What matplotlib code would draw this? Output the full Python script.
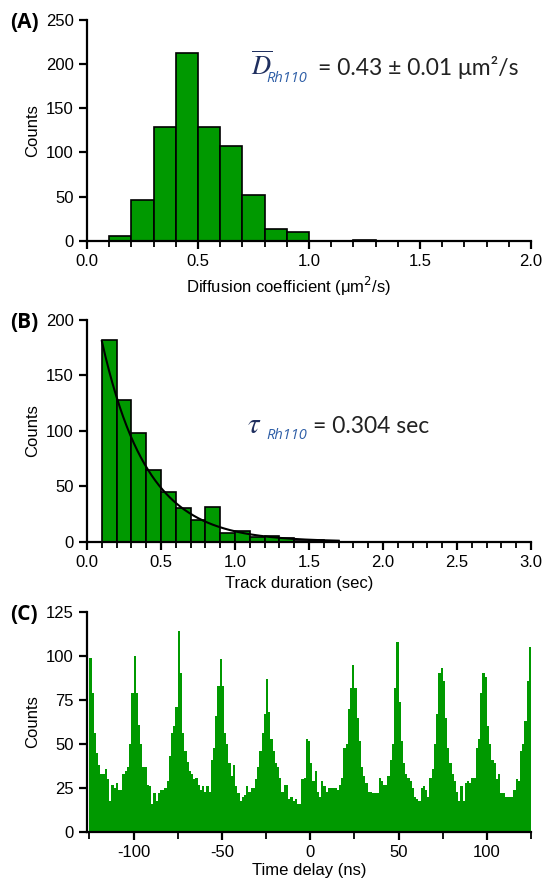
import numpy as np
import matplotlib
matplotlib.use("Agg")
import matplotlib.pyplot as plt
from matplotlib.ticker import MultipleLocator

# (A) diffusion coefficient histogram, bins of 0.1 um^2/s from 0.1 to 2.0
diff_bin_start = 0.1
diff_bin_width = 0.1
diff_counts = [5, 46, 129, 213, 129, 107, 52, 13, 10, 0, 0, 1, 0, 0, 0, 0, 0, 0, 0]

# (B) track duration histogram, bins of 0.1 s from 0.1 s
track_bin_start = 0.1
track_bin_width = 0.1
track_counts = [182, 128, 98, 65, 45, 30, 20, 31, 8, 10, 4, 5, 3, 1, 2, 1]
# exponential fit shown as the black line
fit_amp = 181
fit_tau = 0.304
fit_end = 1.7

# (C) time delay histogram, 1.25 ns bins from -125 to 125 ns
delay_bin_start = -125
delay_bin_width = 1.25
delay_counts = [
    99, 79, 56, 45, 38, 33, 33, 36, 30, 18, 27, 25, 28, 24, 24, 33, 35, 37, 50, 79,
    100, 79, 61, 50, 37, 37, 27, 26, 16, 22, 18, 22, 24, 24, 25, 29, 43, 56, 60, 71,
    114, 90, 56, 46, 40, 35, 33, 30, 31, 27, 24, 26, 23, 26, 23, 41, 48, 66, 83, 98,
    83, 56, 50, 39, 32, 38, 26, 22, 18, 20, 21, 26, 23, 25, 25, 30, 37, 46, 56, 67,
    87, 68, 53, 46, 39, 37, 31, 23, 27, 27, 19, 20, 18, 19, 16, 16, 30, 31, 53, 52,
    39, 29, 35, 23, 20, 29, 26, 23, 25, 25, 25, 25, 24, 27, 31, 48, 50, 70, 82, 95,
    82, 65, 52, 37, 32, 28, 23, 23, 22, 22, 22, 31, 29, 27, 27, 32, 41, 50, 82, 108,
    74, 52, 39, 33, 31, 29, 25, 20, 19, 18, 25, 26, 24, 20, 31, 36, 50, 67, 90, 93,
    86, 65, 48, 39, 33, 29, 23, 18, 26, 18, 28, 29, 28, 31, 31, 48, 53, 79, 90, 88,
    60, 50, 41, 39, 30, 33, 22, 22, 20, 20, 20, 20, 24, 30, 29, 46, 50, 63, 86, 105,
]

GREEN = "#009900"
NAVY = "#1f2f5f"
BLUE = "#2f5fa7"

plt.rcParams["font.family"] = ["Liberation Sans", "DejaVu Sans"]
plt.rcParams["font.size"] = 12
plt.rcParams["axes.unicode_minus"] = False


def style_axes(ax):
    for side in ("top", "right"):
        ax.spines[side].set_visible(False)
    for side in ("left", "bottom"):
        ax.spines[side].set_linewidth(1.6)
    ax.tick_params(which="major", direction="out", length=6, width=1.6, labelsize=12)
    ax.tick_params(which="minor", direction="out", length=4, width=1.3)
    ax.set_ylabel("Counts", fontsize=12)


def main():
    fig = plt.figure(figsize=(5.44, 8.81), dpi=100)

    # ---- (A)
    ax = fig.add_axes([0.16, 0.7268, 0.8162, 0.2505])
    left = diff_bin_start + diff_bin_width * np.arange(len(diff_counts))
    ax.bar(left, diff_counts, width=diff_bin_width, align="edge",
           color=GREEN, edgecolor="black", linewidth=1.2, zorder=2)
    ax.set_xlim(0, 2.0)
    ax.set_ylim(0, 250)
    ax.xaxis.set_major_locator(MultipleLocator(0.5))
    ax.xaxis.set_minor_locator(MultipleLocator(0.1))
    ax.yaxis.set_major_locator(MultipleLocator(50))
    ax.xaxis.set_major_formatter(plt.FormatStrFormatter("%.1f"))
    style_axes(ax)
    ax.set_xlabel("Diffusion coefficient (\u03bcm$^2$/s)", fontsize=12)
    ax.xaxis.set_label_coords(0.455, -0.155)
    ax.text(0.37, 0.75, r"$\overline{D}$", transform=ax.transAxes, fontsize=19,
            color=NAVY, math_fontfamily="stix")
    ax.text(0.405, 0.718, "Rh110", transform=ax.transAxes, fontsize=10.5,
            color=BLUE, style="italic", family="Open Sans")
    ax.text(0.52, 0.75, "= 0.43 \u00b1 0.01 \u03bcm\u00b2/s", transform=ax.transAxes,
            fontsize=16.5, color="#222222", family="Lato")
    fig.text(0.018, 0.975, "(A)", fontsize=15, fontweight="bold", va="center",
             family="Open Sans")

    # ---- (B)
    ax = fig.add_axes([0.16, 0.3851, 0.8162, 0.2517])
    left = track_bin_start + track_bin_width * np.arange(len(track_counts))
    ax.bar(left, track_counts, width=track_bin_width, align="edge",
           color=GREEN, edgecolor="black", linewidth=1.2, zorder=2)
    xfit = np.linspace(track_bin_start, fit_end, 200)
    ax.plot(xfit, fit_amp * np.exp(-(xfit - track_bin_start) / fit_tau),
            color="black", linewidth=1.5, zorder=3)
    ax.set_xlim(0, 3.0)
    ax.set_ylim(0, 200)
    ax.xaxis.set_major_locator(MultipleLocator(0.5))
    ax.xaxis.set_minor_locator(MultipleLocator(0.1))
    ax.yaxis.set_major_locator(MultipleLocator(50))
    ax.xaxis.set_major_formatter(plt.FormatStrFormatter("%.1f"))
    style_axes(ax)
    ax.set_xlabel("Track duration (sec)", fontsize=12)
    ax.xaxis.set_label_coords(0.477, -0.155)
    ax.text(0.36, 0.49, r"$\tau$", transform=ax.transAxes, fontsize=21,
            color=NAVY, math_fontfamily="stix")
    ax.text(0.405, 0.465, "Rh110", transform=ax.transAxes, fontsize=10.5,
            color=BLUE, style="italic", family="Open Sans")
    ax.text(0.51, 0.49, "= 0.304 sec", transform=ax.transAxes,
            fontsize=16.5, color="#222222", family="Lato")
    fig.text(0.018, 0.634, "(B)", fontsize=15, fontweight="bold", va="center",
             family="Open Sans")

    # ---- (C)
    ax = fig.add_axes([0.16, 0.0553, 0.8162, 0.2504])
    edges = delay_bin_start + delay_bin_width * np.arange(len(delay_counts) + 1)
    ax.stairs(delay_counts, edges, fill=True, color=GREEN, zorder=2)
    ax.set_xlim(-126.3, 125)
    ax.set_ylim(0, 125)
    ax.xaxis.set_major_locator(MultipleLocator(50))
    ax.xaxis.set_minor_locator(MultipleLocator(25))
    ax.yaxis.set_major_locator(MultipleLocator(25))
    style_axes(ax)
    ax.tick_params(which="minor", length=5)
    ax.set_xlabel("Time delay (ns)", fontsize=12, labelpad=2)
    fig.text(0.018, 0.302, "(C)", fontsize=15, fontweight="bold", va="center",
             family="Open Sans")

    fig.savefig("out.png", dpi=100)
    plt.close(fig)


if __name__ == "__main__":
    main()
